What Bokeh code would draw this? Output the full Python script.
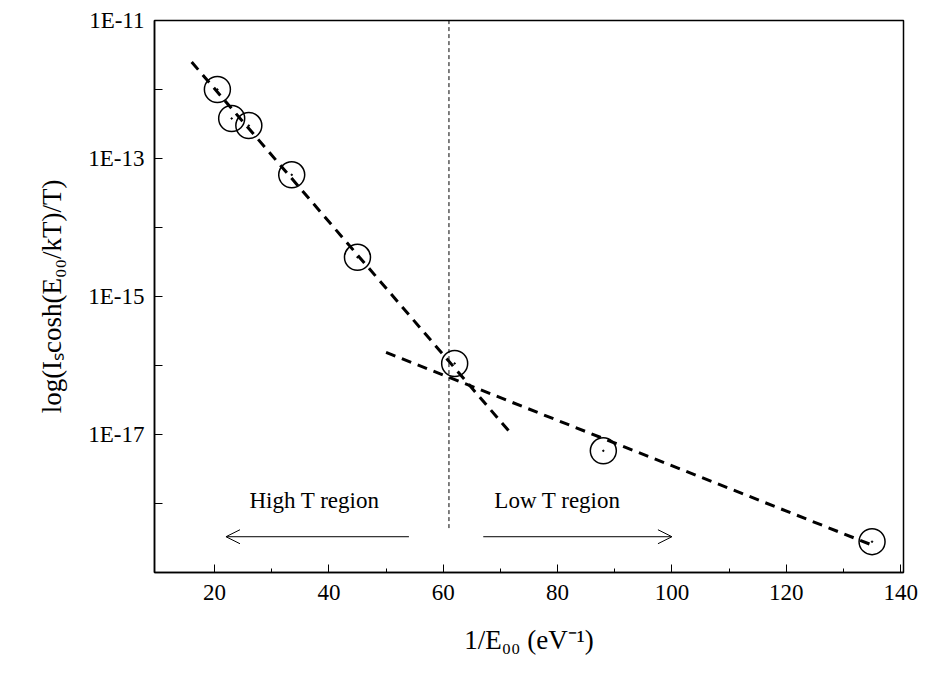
from bokeh.plotting import figure
from bokeh.models import CustomJSTickFormatter, Range1d, Arrow, OpenHead, Label, FixedTicker
from bokeh.embed import file_html
from bokeh.resources import INLINE

x_pts = [20.5, 23, 26, 33.5, 45, 62, 88, 135]
y_pts = [1.0e-12, 3.8e-13, 3.0e-13, 5.8e-14, 3.7e-15, 1.07e-16, 5.8e-18, 2.8e-19]
high_x = [16, 72]
high_y = [2.5e-12, 1.0e-17]
low_x = [50, 135]
low_y = [1.55e-16, 2.5e-19]
vline_x = [61, 61]
vline_y = [4.4e-19, 1.0e-11]
FONT = "Liberation Serif"

p = figure(width=923, height=670, output_backend="svg", toolbar_location=None,
           y_axis_type="log", x_range=Range1d(9.5, 140.5), y_range=Range1d(1e-19, 1e-11),
           min_border_left=154, min_border_top=20, min_border_right=20, min_border_bottom=98)
p.grid.visible = False
p.outline_line_color = "black"
p.outline_line_width = 1.5
p.xaxis.ticker = FixedTicker(ticks=[20, 40, 60, 80, 100, 120, 140], minor_ticks=[30, 50, 70, 90, 110, 130])
p.yaxis.ticker = FixedTicker(ticks=[10.0**e for e in range(-19, -10)], minor_ticks=[])
p.yaxis.formatter = CustomJSTickFormatter(code="""
const e = Math.round(Math.log10(tick));
return (e % 2 === 0 || e <= -19) ? '' : '1E' + e;
""")
for ax in (p.xaxis, p.yaxis):
    ax.major_tick_in = 8
    ax.major_tick_out = 0
    ax.minor_tick_in = 4
    ax.minor_tick_out = 0
    ax.major_label_text_font = FONT
    ax.major_label_text_font_size = "23px"
    ax.major_label_text_color = "black"
    ax.axis_label_text_font = FONT
    ax.axis_label_text_font_size = "27px"
    ax.axis_label_text_color = "black"
    ax.axis_label_text_font_style = "normal"
    ax.axis_line_width = 1.5
    ax.axis_line_color = "black"
    ax.major_tick_line_color = "black"
    ax.minor_tick_line_color = "black"
p.xaxis.major_label_standoff = 12
p.yaxis.major_label_standoff = 10
p.xaxis.axis_label_standoff = 22
p.yaxis.axis_label_standoff = 18
p.xaxis.axis_label = "1/E₀₀ (eV⁻¹)"
p.yaxis.axis_label = "log(Iₛcosh(E₀₀/kT)/T)"

p.line(high_x, high_y, line_color="black", line_width=3, line_dash="10 7")
p.line(low_x, low_y, line_color="black", line_width=3, line_dash="10 7")
p.line(vline_x, vline_y, line_color="black", line_width=1, line_dash="4 3")
p.scatter(x_pts, y_pts, size=26, fill_color=None, line_color="black", line_width=1.5)
p.scatter(x_pts, y_pts, size=1.5, color="black")

p.add_layout(Arrow(end=OpenHead(size=14, line_width=1), x_start=54, y_start=3.3e-19,
                   x_end=22, y_end=3.3e-19, line_width=1))
p.add_layout(Arrow(end=OpenHead(size=14, line_width=1), x_start=67, y_start=3.3e-19,
                   x_end=100, y_end=3.3e-19, line_width=1))
p.add_layout(Label(x=37.5, y=1.1e-18, text="High T region", text_align="center", text_baseline="middle",
                   text_font=FONT, text_font_size="23px", text_color="black"))
p.add_layout(Label(x=80, y=1.1e-18, text="Low T region", text_align="center", text_baseline="middle",
                   text_font=FONT, text_font_size="23px", text_color="black"))

open("out.html", "w").write(file_html(p, INLINE))
